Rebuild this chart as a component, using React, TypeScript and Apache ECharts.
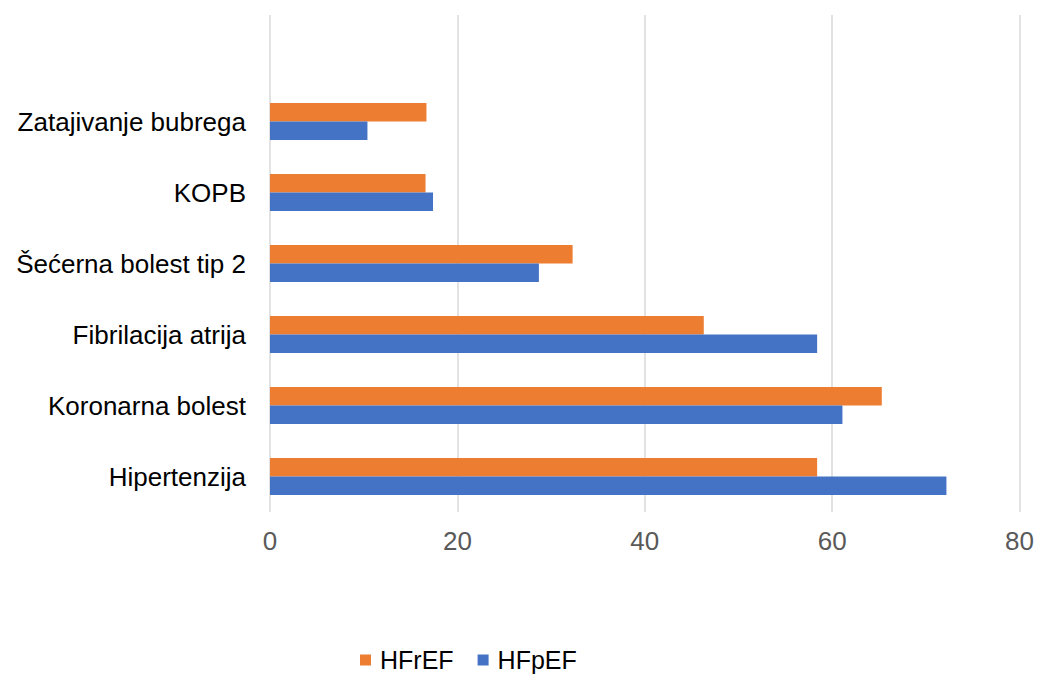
import React, { useEffect, useRef } from "react";
import * as echarts from "echarts";

const categories = ["Hipertenzija", "Koronarna bolest", "Fibrilacija atrija", "Šećerna bolest tip 2", "KOPB", "Zatajivanje bubrega", ""];
const hfref = [58.4, 65.3, 46.3, 32.3, 16.6, 16.7, null];
const hfpef = [72.2, 61.1, 58.4, 28.7, 17.4, 10.4, null];
const xTicks = { min: 0, max: 80, interval: 20 };

export default function App() {
  const ref = useRef<HTMLDivElement>(null);
  useEffect(() => {
    const chart = echarts.init(ref.current!, null, { renderer: "svg" });
    chart.setOption({
      animation: false,
      textStyle: { fontFamily: "Liberation Sans, Arial, sans-serif" },
      grid: { left: 270, right: 19.5, top: 15, bottom: 163, containLabel: false },
      legend: {
        top: 646,
        left: 355,
        padding: [0, 5, 0, 5],
        itemWidth: 11,
        itemHeight: 11,
        itemGap: 24,
        icon: "rect",
        textStyle: { fontSize: 25, lineHeight: 28, color: "#000", padding: [0, 0, 0, 4], fontFamily: "Liberation Sans, Arial, sans-serif" },
        data: ["HFrEF", "HFpEF"],
      },
      xAxis: {
        type: "value",
        min: xTicks.min,
        max: xTicks.max,
        interval: xTicks.interval,
        axisLine: { show: false },
        axisTick: { show: false },
        splitLine: { lineStyle: { color: "#D9D9D9", width: 1.5 } },
        axisLabel: { fontSize: 26, color: "#595959", margin: 16 },
      },
      yAxis: {
        type: "category",
        data: categories,
        axisLine: { show: false },
        axisTick: { show: false },
        axisLabel: { fontSize: 26, color: "#000", margin: 24 },
      },
      series: [
        { name: "HFrEF", type: "bar", data: hfref, barWidth: 18.5, barGap: "0%", itemStyle: { color: "#ED7D31" } },
        { name: "HFpEF", type: "bar", data: hfpef, barWidth: 18.5, barGap: "0%", itemStyle: { color: "#4472C4" } },
      ],
    });
    return () => chart.dispose();
  }, []);
  return <div ref={ref} style={{ width: 1039, height: 675, position: "absolute", left: 0, top: 0 }} />;
}
